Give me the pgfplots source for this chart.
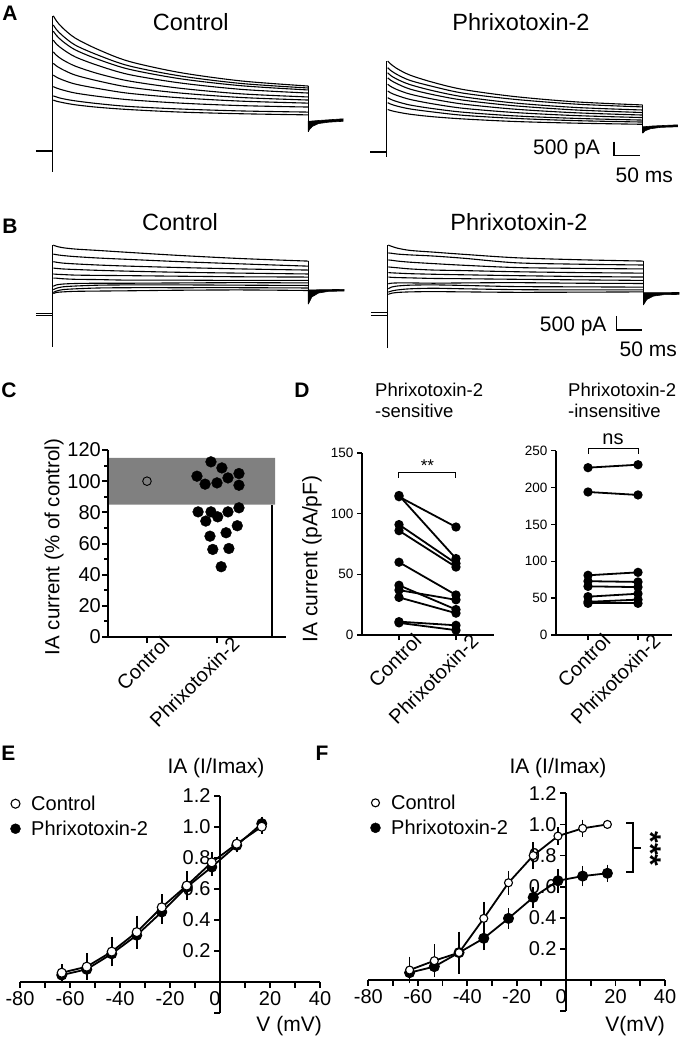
\documentclass[border=0pt]{standalone}
\usepackage{fontspec}
\setmainfont{Liberation Sans}[BoldFont={Liberation Sans Bold}]
\usepackage{pgfplots}
\usepackage{pgfplotstable}
\pgfplotsset{compat=1.18}
\newcommand{\fs}[1]{\fontsize{#1}{#1}\selectfont}
\newcommand{\plab}[1]{\fontsize{21}{21}\selectfont\bfseries #1}
\definecolor{boxgray}{RGB}{128,128,128}

\pgfplotsset{
  trace/.style={anchor=south west, x=0.512pt, y=0.028pt, xmin=-35, xmax=575,
    ymin=-1300, ymax=5000, hide axis, clip=false},
  tr/.style={black, line width=1.1pt, mark=none},
  base/.style={black, line width=2.6pt, mark=none},
  wedge/.style={black, fill=black, line width=0.6pt, mark=none},
  dline/.style={black, line width=1.8pt, mark=*, mark size=3.7pt},
}

% ---------------- traces (t in ms, I in pA) ----------------
\pgfplotstableread{
t c1 c2 c3 c4 c5 c6 c7 c8 c9 c10
2 4830 4500 4280 3960 3540 3130 2710 2300 1970 1820
8 4650 4340 4130 3820 3420 3040 2640 2250 1930 1780
20 4400 4120 3920 3640 3260 2910 2540 2180 1870 1730
45 4030 3780 3610 3360 3030 2710 2390 2070 1790 1650
90 3620 3420 3270 3050 2760 2500 2230 1950 1690 1560
150 3200 3040 2920 2730 2500 2280 2060 1830 1590 1480
250 2800 2680 2580 2430 2240 2070 1900 1710 1500 1390
370 2500 2410 2330 2200 2040 1910 1780 1620 1430 1330
500 2320 2250 2180 2070 1930 1820 1710 1570 1390 1290
}\Actrl
\pgfplotstableread{
t c1 c2 c3 c4 c5 c6 c7 c8 c9
2 3250 3010 2830 2650 2420 2180 1940 1760 1520
8 3140 2910 2730 2560 2340 2110 1880 1710 1480
20 2980 2770 2600 2440 2230 2020 1800 1640 1430
45 2750 2560 2410 2250 2070 1880 1680 1540 1350
90 2490 2340 2190 2050 1890 1720 1550 1430 1260
150 2230 2100 1970 1850 1710 1560 1420 1310 1180
250 1980 1880 1750 1650 1530 1410 1290 1200 1090
370 1790 1710 1590 1500 1400 1300 1200 1120 1030
500 1680 1610 1500 1410 1320 1230 1140 1070 990
}\Aphrix
\pgfplotstableread{
t c1 c2 c3 c4 c5 c6 c7 c8 c9 c10
2 2470 2150 1880 1650 1440 1290 1000 880 780 740
8 2430 2130 1860 1640 1430 1290 1050 930 830 780
20 2380 2100 1830 1620 1420 1270 1080 980 880 800
45 2330 2060 1800 1600 1400 1250 1100 1010 910 820
90 2280 2010 1760 1570 1390 1240 1110 1040 940 830
150 2210 1960 1720 1540 1380 1220 1110 1050 950 840
250 2100 1880 1670 1500 1360 1220 1120 1050 950 860
370 1990 1800 1620 1470 1340 1210 1130 1040 950 870
500 1900 1720 1580 1440 1330 1210 1120 1030 940 850
}\Bctrl
\pgfplotstableread{
t c1 c2 c3 c4 c5 c6 c7 c8 c9 c10
2 2460 2180 1930 1680 1480 1320 1080 900 780 700
8 2420 2170 1920 1670 1470 1310 1100 960 820 740
20 2350 2140 1890 1650 1460 1300 1110 1000 860 770
45 2270 2110 1850 1610 1440 1290 1110 1030 900 790
90 2210 2070 1800 1570 1420 1270 1100 1040 920 800
150 2130 1990 1740 1550 1400 1260 1110 1020 900 790
250 2010 1830 1660 1510 1370 1240 1120 980 870 775
370 1940 1780 1630 1480 1340 1220 1100 970 860 780
500 1890 1750 1610 1460 1320 1200 1090 960 860 790
}\Bphrix

% ---------------- panel C ----------------
\pgfplotstableread{
x y
1.914 112.4
1.714 103.2
2.070 108.5
1.830 98.1
2.000 98.9
2.157 102.1
2.314 104.9
2.314 97.4
1.730 80.3
1.914 80.3
2.157 80.3
2.314 82.9
1.840 74.4
2.010 77.1
2.290 71.4
1.900 64.7
2.130 66.9
1.940 56.2
2.170 56.8
2.060 45.1
}\Cphrix

% ---------------- panels E, F ----------------
\pgfplotstableread{
v c ce p pe
-63.3 0.058 0.03 0.043 0.02
-53.3 0.097 0.06 0.080 0.04
-43.3 0.194 0.07 0.180 0.05
-33.3 0.320 0.08 0.300 0.05
-23.3 0.480 0.06 0.450 0.05
-13.3 0.620 0.07 0.610 0.04
-3.3 0.770 0.04 0.740 0.03
6.7 0.890 0.02 0.880 0.02
16.7 1.000 0.02 1.020 0.02
}\Edata
\pgfplotstableread{
v c ce p pe
-63.3 0.064 0.06 0.047 0.03
-53.3 0.124 0.08 0.086 0.04
-43.3 0.176 0.11 0.176 0.07
-33.3 0.396 0.08 0.268 0.05
-23.3 0.625 0.05 0.396 0.04
-13.3 0.800 0.06 0.531 0.04
-3.3 0.925 0.03 0.638 0.05
6.7 0.975 0.03 0.668 0.04
16.7 1.000 0.00 0.686 0.03
}\Fdata

\pgfplotsset{
  ivaxis/.style={scale only axis, xmin=-80, xmax=40, ymin=-0.2, ymax=1.2,
    axis lines=middle, axis line style={line width=2pt, -},
    xtick={-80,-60,-40,-20,20,40}, xticklabels={-80,-60,-40,-20,20,40},
    extra x ticks={0}, extra x tick labels={0},
    extra x tick style={xticklabel style={xshift=-5pt}},
    minor xtick={-70,-50,-30,-10,10,30},
    ytick={-0.2,0.2,0.4,0.6,0.8,1.0,1.2}, yticklabels={,0.2,0.4,0.6,0.8,1.0,1.2},
    tick align=outside, major tick length=6pt, minor tick length=6pt,
    tick style={line width=1.8pt, black},
    hide obscured x ticks=false, hide obscured y ticks=false,
    tick label style={font=\fs{20}},
    clip=false,
    legend image code/.code={\draw[##1] plot coordinates {(5pt,0pt)}; \path (0pt,0pt) (10pt,0pt);},
    legend style={draw=none, fill=none, inner sep=0pt, font=\fs{20}, row sep=5pt,
      nodes={inner sep=2pt}, anchor=north west},
    legend cell align=left,
    /tikz/every odd column/.style={column sep=8.5pt},
  },
  ivctrl/.style={black, line width=1.8pt, mark=*, mark size=4.5pt,
    mark options={fill=white, line width=1.1pt},
    error bars/y dir=both, error bars/y explicit,
    error bars/error bar style={line width=1.5pt},
    error bars/error mark options={mark size=4pt, line width=1.5pt}},
  ivphrix/.style={black, line width=1.8pt, mark=*, mark size=5pt,
    mark options={fill=black, line width=1pt},
    error bars/y dir=both, error bars/y explicit,
    error bars/error bar style={line width=1.5pt},
    error bars/error mark options={mark size=4pt, line width=1.5pt}},
}

\begin{document}
\begin{tikzpicture}
\path[use as bounding box] (0pt,0pt) rectangle (682pt,-1039pt);

% ====== A control ======
\begin{axis}[trace, at={(34.38pt,-187.4pt)}]
\addplot[base] coordinates {(-32,0) (0,0)};
\addplot[tr] coordinates {(0,-740) (0,4830)};
\pgfplotsinvokeforeach{1,...,10}{\addplot[tr,smooth] table[x=t,y=c#1]{\Actrl};}
\addplot[tr] coordinates {(500,2320) (500,690)};
\addplot[wedge] coordinates {(500,690) (500,1060) (520,1090) (568,1150) (568,1060) (540,1030) (520,980) (508,880) (502,760) (500,690)};
\end{axis}
% ====== A phrixotoxin ======
\begin{axis}[trace, at={(368.78pt,-188.4pt)}]
\addplot[base] coordinates {(-32,0) (0,0)};
\addplot[tr] coordinates {(0,-170) (0,3250)};
\pgfplotsinvokeforeach{1,...,9}{\addplot[tr,smooth] table[x=t,y=c#1]{\Aphrix};}
\addplot[tr] coordinates {(500,1680) (500,670)};
\addplot[wedge] coordinates {(500,670) (500,900) (520,930) (568,970) (568,900) (535,880) (515,830) (505,760) (500,670)};
\draw[line width=1.4pt] (axis cs:444,368) -- (axis cs:444,-132) -- (axis cs:494,-132);
\end{axis}
% ====== B control ======
\begin{axis}[trace, at={(34.38pt,-350.7pt)}]
\addplot[tr, line width=1.2pt] coordinates {(-32,40) (0,40)};
\addplot[tr, line width=1.2pt] coordinates {(-32,-45) (0,-45)};
\addplot[tr] coordinates {(0,-1160) (0,2470)};
\pgfplotsinvokeforeach{1,...,10}{\addplot[tr,smooth] table[x=t,y=c#1]{\Bctrl};}
\addplot[tr] coordinates {(500,1900) (500,360)};
\addplot[wedge] coordinates {(500,360) (500,870) (530,880) (570,890) (570,830) (540,820) (520,760) (507,620) (500,360)};
\end{axis}
% ====== B phrixotoxin ======
\begin{axis}[trace, at={(369.38pt,-350.4pt)}]
\addplot[tr, line width=1.2pt] coordinates {(-32,60) (0,60)};
\addplot[tr, line width=1.2pt] coordinates {(-32,-60) (0,-60)};
\addplot[tr] coordinates {(0,-1220) (0,2460)};
\pgfplotsinvokeforeach{1,...,10}{\addplot[tr,smooth] table[x=t,y=c#1]{\Bphrix};}
\addplot[tr] coordinates {(500,1890) (500,320)};
\addplot[wedge] coordinates {(500,320) (500,760) (530,760) (570,770) (570,700) (540,690) (520,640) (507,520) (500,320)};
\draw[line width=1.4pt] (axis cs:448,-71) -- (axis cs:448,-571) -- (axis cs:498,-571);
\end{axis}

% ====== C ======
\begin{axis}[at={(108pt,-637pt)}, anchor=south west, scale only axis, width=178pt, height=187pt,
  xmin=0.443, xmax=2.986, ymin=0, ymax=120,
  axis x line*=bottom, axis y line*=left, axis line style={line width=2.5pt},
  xtick={1,2}, xticklabels={Control,Phrixotoxin-2},
  ytick={0,20,40,60,80,100,120}, yticklabels={0,20,40,60,80,100,120},
  minor ytick={10,30,50,70,90,110},
  tick align=outside, major tick length=6pt, minor tick length=4pt,
  tick style={line width=2pt, black},
  xticklabel style={font=\fs{20}, rotate=45, anchor=north east, inner sep=0pt, xshift=15pt, yshift=-4pt},
  yticklabel style={font=\fs{20}, inner sep=0pt, xshift=-1pt},
  clip=false, axis on top]
\addplot[fill=boxgray, draw=none] coordinates {(0.443,85) (2.83,85) (2.83,115) (0.443,115) (0.443,85)};
\addplot[black, line width=2.5pt, mark=none] coordinates {(2.786,0) (2.786,85)};
\addplot[only marks, mark=o, mark size=4.3pt, mark options={line width=0.9pt, black}] coordinates {(1,100)};
\addplot[only marks, mark=*, mark size=5.4pt, black] table[x=x,y=y]{\Cphrix};
\end{axis}

% ====== D left ======
\begin{axis}[at={(362pt,-635pt)}, anchor=south west, scale only axis, width=132pt, height=182pt,
  xmin=0.351, xmax=2.667, ymin=0, ymax=150,
  axis x line*=bottom, axis y line*=left, axis line style={line width=1.5pt},
  xtick={1,2}, xticklabels={Control,Phrixotoxin-2},
  ytick={0,50,100,150}, yticklabels={0,50,100,150},
  tick align=outside, major tick length=5pt, tick style={line width=1.5pt, black},
  xticklabel style={font=\fs{20}, rotate=45, anchor=north east, inner sep=0pt, xshift=15pt, yshift=-4pt},
  yticklabel style={font=\fs{13.5}},
  clip=false]
\addplot[dline] coordinates {(1,114) (2,89)};
\addplot[dline] coordinates {(1,115) (2,63)};
\addplot[dline] coordinates {(1,91) (2,59)};
\addplot[dline] coordinates {(1,86) (2,56)};
\addplot[dline] coordinates {(1,60) (2,33)};
\addplot[dline] coordinates {(1,41) (2,21)};
\addplot[dline] coordinates {(1,37) (2,29)};
\addplot[dline] coordinates {(1,31) (2,18)};
\addplot[dline] coordinates {(1,11) (2,8)};
\addplot[dline] coordinates {(1,10) (2,4)};
\draw[line width=1pt] (axis cs:1,129.5) -- (axis cs:1,133.6) -- (axis cs:2,133.6) -- (axis cs:2,129.5);
\node[anchor=base, font=\fs{17}] at (axis cs:1.5,134.5) {**};
\end{axis}

% ====== D right ======
\begin{axis}[at={(556pt,-635pt)}, anchor=south west, scale only axis, width=116pt, height=184.3pt,
  xmin=0.36, xmax=2.68, ymin=0, ymax=250,
  axis x line*=bottom, axis y line*=left, axis line style={line width=1.5pt},
  xtick={1,2}, xticklabels={Control,Phrixotoxin-2},
  ytick={0,50,100,150,200,250}, yticklabels={0,50,100,150,200,250},
  tick align=outside, major tick length=5pt, tick style={line width=1.5pt, black},
  xticklabel style={font=\fs{20}, rotate=45, anchor=north east, inner sep=0pt, xshift=15pt, yshift=-4pt},
  yticklabel style={font=\fs{13.5}},
  clip=false]
\addplot[dline] coordinates {(1,227) (2,231)};
\addplot[dline] coordinates {(1,194) (2,190)};
\addplot[dline] coordinates {(1,81) (2,85)};
\addplot[dline] coordinates {(1,73) (2,72)};
\addplot[dline] coordinates {(1,66) (2,65)};
\addplot[dline] coordinates {(1,52) (2,56)};
\addplot[dline] coordinates {(1,45) (2,48)};
\addplot[dline] coordinates {(1,43) (2,43)};
\draw[line width=1pt] (axis cs:1,245.6) -- (axis cs:1,253.3) -- (axis cs:2,253.3) -- (axis cs:2,245.6);
\node[anchor=base, font=\fs{20}] at (axis cs:1.5,258) {ns};
\end{axis}

% ====== E ======
\begin{axis}[ivaxis, at={(20pt,-1012.7pt)}, anchor=south west, width=300pt, height=217pt,
  legend style={at={(axis description cs:-0.033,1.01)}}]
\addlegendimage{only marks, mark=*, mark size=4.5pt, mark options={fill=white, line width=1.1pt}}
\addlegendentry{Control}
\addlegendimage{only marks, mark=*, mark size=5pt, mark options={fill=black}}
\addlegendentry{Phrixotoxin-2}
\addplot[ivphrix, forget plot] table[x=v, y=p, y error=pe]{\Edata};
\addplot[ivctrl, forget plot] table[x=v, y=c, y error=ce]{\Edata};
\end{axis}

% ====== F ======
\begin{axis}[ivaxis, at={(368.3pt,-1011.1pt)}, anchor=south west, width=296.7pt, height=217.8pt,
  legend style={at={(axis description cs:0.006,1.003)}}]
\addlegendimage{only marks, mark=*, mark size=4pt, mark options={fill=white, line width=1.1pt}}
\addlegendentry{Control}
\addlegendimage{only marks, mark=*, mark size=5pt, mark options={fill=black}}
\addlegendentry{Phrixotoxin-2}
\addplot[ivphrix, forget plot] table[x=v, y=p, y error=pe]{\Fdata};
\addplot[ivctrl, mark size=4pt, forget plot] table[x=v, y=c, y error=ce]{\Fdata};
\end{axis}

% ====== text ======
\begin{scope}[every node/.style={inner sep=0pt}]
\node[anchor=base] at (10pt,-20.5pt) {\plab{A}};
\node[anchor=base] at (10pt,-233.5pt) {\plab{B}};
\node[anchor=base] at (9pt,-397pt) {\plab{C}};
\node[anchor=base] at (302pt,-397pt) {\plab{D}};
\node[anchor=base] at (8.5pt,-760.5pt) {\plab{E}};
\node[anchor=base] at (322pt,-760.5pt) {\plab{F}};

\node[anchor=base, font=\fs{23.5}] at (190.8pt,-30pt) {Control};
\node[anchor=base, font=\fs{23.5}] at (521pt,-30pt) {Phrixotoxin-2};
\node[anchor=base, font=\fs{23.5}] at (180pt,-230pt) {Control};
\node[anchor=base, font=\fs{23.5}] at (519pt,-230pt) {Phrixotoxin-2};

\node[anchor=base east, font=\fs{21}] at (600pt,-154.3pt) {500 pA};
\node[anchor=base east, font=\fs{21}] at (673pt,-182.3pt) {50 ms};
\node[anchor=base east, font=\fs{21}] at (606.7pt,-331.7pt) {500 pA};
\node[anchor=base east, font=\fs{21}] at (677pt,-356.7pt) {50 ms};

\node[rotate=90, font=\fs{20.5}] at (54pt,-547pt) {IA current (\% of control)};
\node[rotate=90, font=\fs{21}] at (312pt,-559pt) {IA current (pA/pF)};

\node[anchor=base west, font=\fs{18.5}] at (375pt,-396.7pt) {Phrixotoxin-2};
\node[anchor=base west, font=\fs{18.5}] at (375pt,-417.3pt) {-sensitive};
\node[anchor=base west, font=\fs{18.5}] at (568pt,-396.7pt) {Phrixotoxin-2};
\node[anchor=base west, font=\fs{18.5}] at (568pt,-417.3pt) {-insensitive};

\node[font=\fs{21}] at (216pt,-768pt) {IA (I/Imax)};
\node[anchor=base east, font=\fs{21}] at (322pt,-1031pt) {V (mV)};
\node[font=\fs{21}] at (558pt,-768pt) {IA (I/Imax)};
\node[anchor=base east, font=\fs{21}] at (665pt,-1031pt) {V(mV)};

\draw[line width=1.5pt] (626pt,-823pt) -- (633pt,-823pt) -- (633pt,-872pt) -- (626pt,-872pt);
\draw[line width=1.5pt] (633pt,-848pt) -- (641pt,-848pt);
\node[rotate=-90, anchor=base, font=\fs{30}\bfseries] at (640pt,-849pt) {***};
\end{scope}
\end{tikzpicture}
\end{document}
